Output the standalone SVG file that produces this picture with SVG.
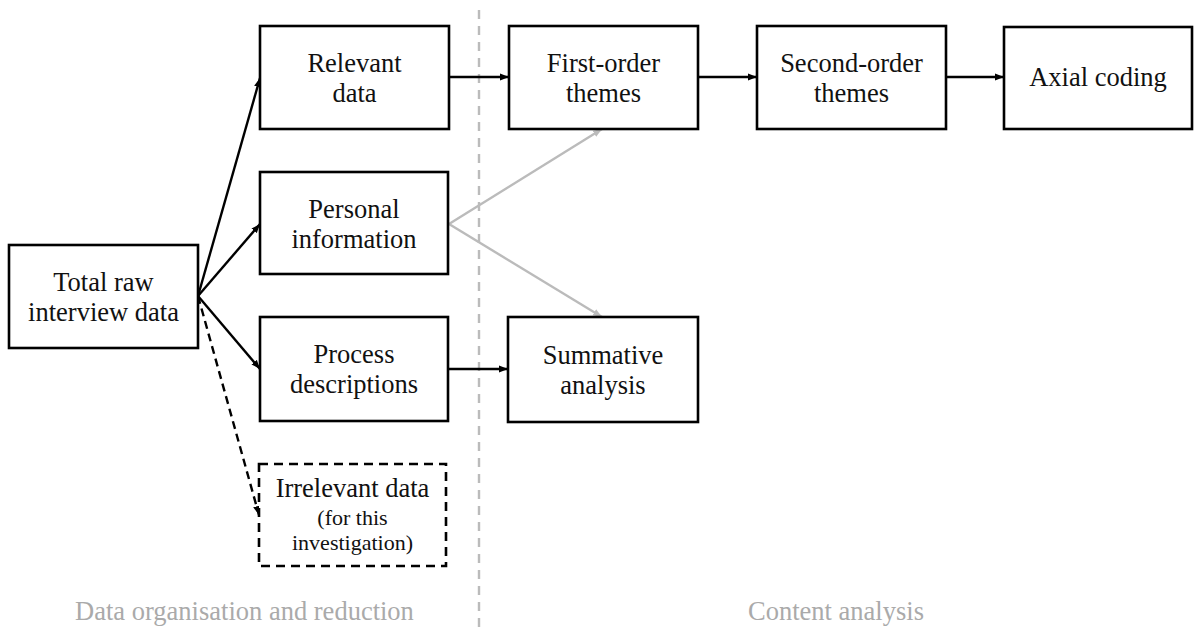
<svg xmlns="http://www.w3.org/2000/svg" width="1194" height="633" viewBox="0 0 1194 633">
<style>
.box{fill:#fff;stroke:#000;stroke-width:2.6}
.dbox{fill:#fff;stroke:#000;stroke-width:2.6;stroke-dasharray:9 6}
.t{font-family:"Liberation Serif","DejaVu Serif",serif;font-size:26.5px;fill:#111;text-anchor:middle}
.s{font-size:22px}
.lbl{font-family:"Liberation Serif","DejaVu Serif",serif;font-size:26.5px;fill:#aaa;text-anchor:middle}
.c{stroke:#000;stroke-width:2.4;fill:none}
.g{stroke:#bbb;stroke-width:2.4;fill:none}
</style>
<defs>
<marker id="ah" markerUnits="userSpaceOnUse" markerWidth="10" markerHeight="8" refX="9" refY="4" orient="auto"><path d="M0,0.5 L9,4 L0,7.5 Z" fill="#000"/></marker>
<marker id="ahg" markerUnits="userSpaceOnUse" markerWidth="10" markerHeight="8" refX="9" refY="4" orient="auto"><path d="M0,0.5 L9,4 L0,7.5 Z" fill="#bbb"/></marker>
</defs>
<rect width="1194" height="633" fill="#fff"/>
<line x1="479" y1="10" x2="479" y2="633" stroke="#bbb" stroke-width="2.4" stroke-dasharray="9 7"/>
<g id="connectors">
<line class="c" x1="198" y1="296" x2="260" y2="78" marker-end="url(#ah)"/>
<line class="c" x1="198" y1="296" x2="260" y2="224" marker-end="url(#ah)"/>
<line class="c" x1="198" y1="296" x2="260" y2="369" marker-end="url(#ah)"/>
<line class="c" x1="198" y1="296" x2="259" y2="515" stroke-dasharray="8 5" marker-end="url(#ah)"/>
<line class="c" x1="449" y1="77" x2="509" y2="77" marker-end="url(#ah)"/>
<line class="c" x1="448" y1="369" x2="508" y2="369" marker-end="url(#ah)"/>
<line class="c" x1="698" y1="77" x2="757" y2="77" marker-end="url(#ah)"/>
<line class="c" x1="946" y1="77" x2="1004" y2="77" marker-end="url(#ah)"/>
<line class="g" x1="449" y1="224" x2="602" y2="129" marker-end="url(#ahg)"/>
<line class="g" x1="449" y1="224" x2="602" y2="317" marker-end="url(#ahg)"/>
</g>
<g id="total">
<rect class="box" x="9" y="245" width="189" height="103"/>
<text class="t" x="103.5" y="291">Total raw</text>
<text class="t" x="103.5" y="321">interview data</text>
</g>
<g id="relevant">
<rect class="box" x="260" y="26" width="189" height="103"/>
<text class="t" x="354.5" y="72">Relevant</text>
<text class="t" x="354.5" y="102">data</text>
</g>
<g id="personal">
<rect class="box" x="260" y="172" width="188" height="102"/>
<text class="t" x="354" y="218">Personal</text>
<text class="t" x="354" y="248">information</text>
</g>
<g id="process">
<rect class="box" x="260" y="317" width="188" height="104"/>
<text class="t" x="354" y="363">Process</text>
<text class="t" x="354" y="393">descriptions</text>
</g>
<g id="irrelevant">
<rect class="dbox" x="259" y="464" width="187" height="102"/>
<text class="t" x="352.5" y="497">Irrelevant data</text>
<text class="t s" x="352.5" y="525">(for this</text>
<text class="t s" x="352.5" y="550">investigation)</text>
</g>
<g id="first">
<rect class="box" x="509" y="26" width="189" height="103"/>
<text class="t" x="603.5" y="72">First-order</text>
<text class="t" x="603.5" y="102">themes</text>
</g>
<g id="summative">
<rect class="box" x="508" y="317" width="190" height="105"/>
<text class="t" x="603" y="364">Summative</text>
<text class="t" x="603" y="394">analysis</text>
</g>
<g id="second">
<rect class="box" x="757" y="26" width="189" height="103"/>
<text class="t" x="851.5" y="72">Second-order</text>
<text class="t" x="851.5" y="102">themes</text>
</g>
<g id="axial">
<rect class="box" x="1004" y="27" width="188" height="102"/>
<text class="t" x="1098" y="86">Axial coding</text>
</g>
<text class="lbl" x="244.5" y="620">Data organisation and reduction</text>
<text class="lbl" x="836" y="620">Content analysis</text>
</svg>
